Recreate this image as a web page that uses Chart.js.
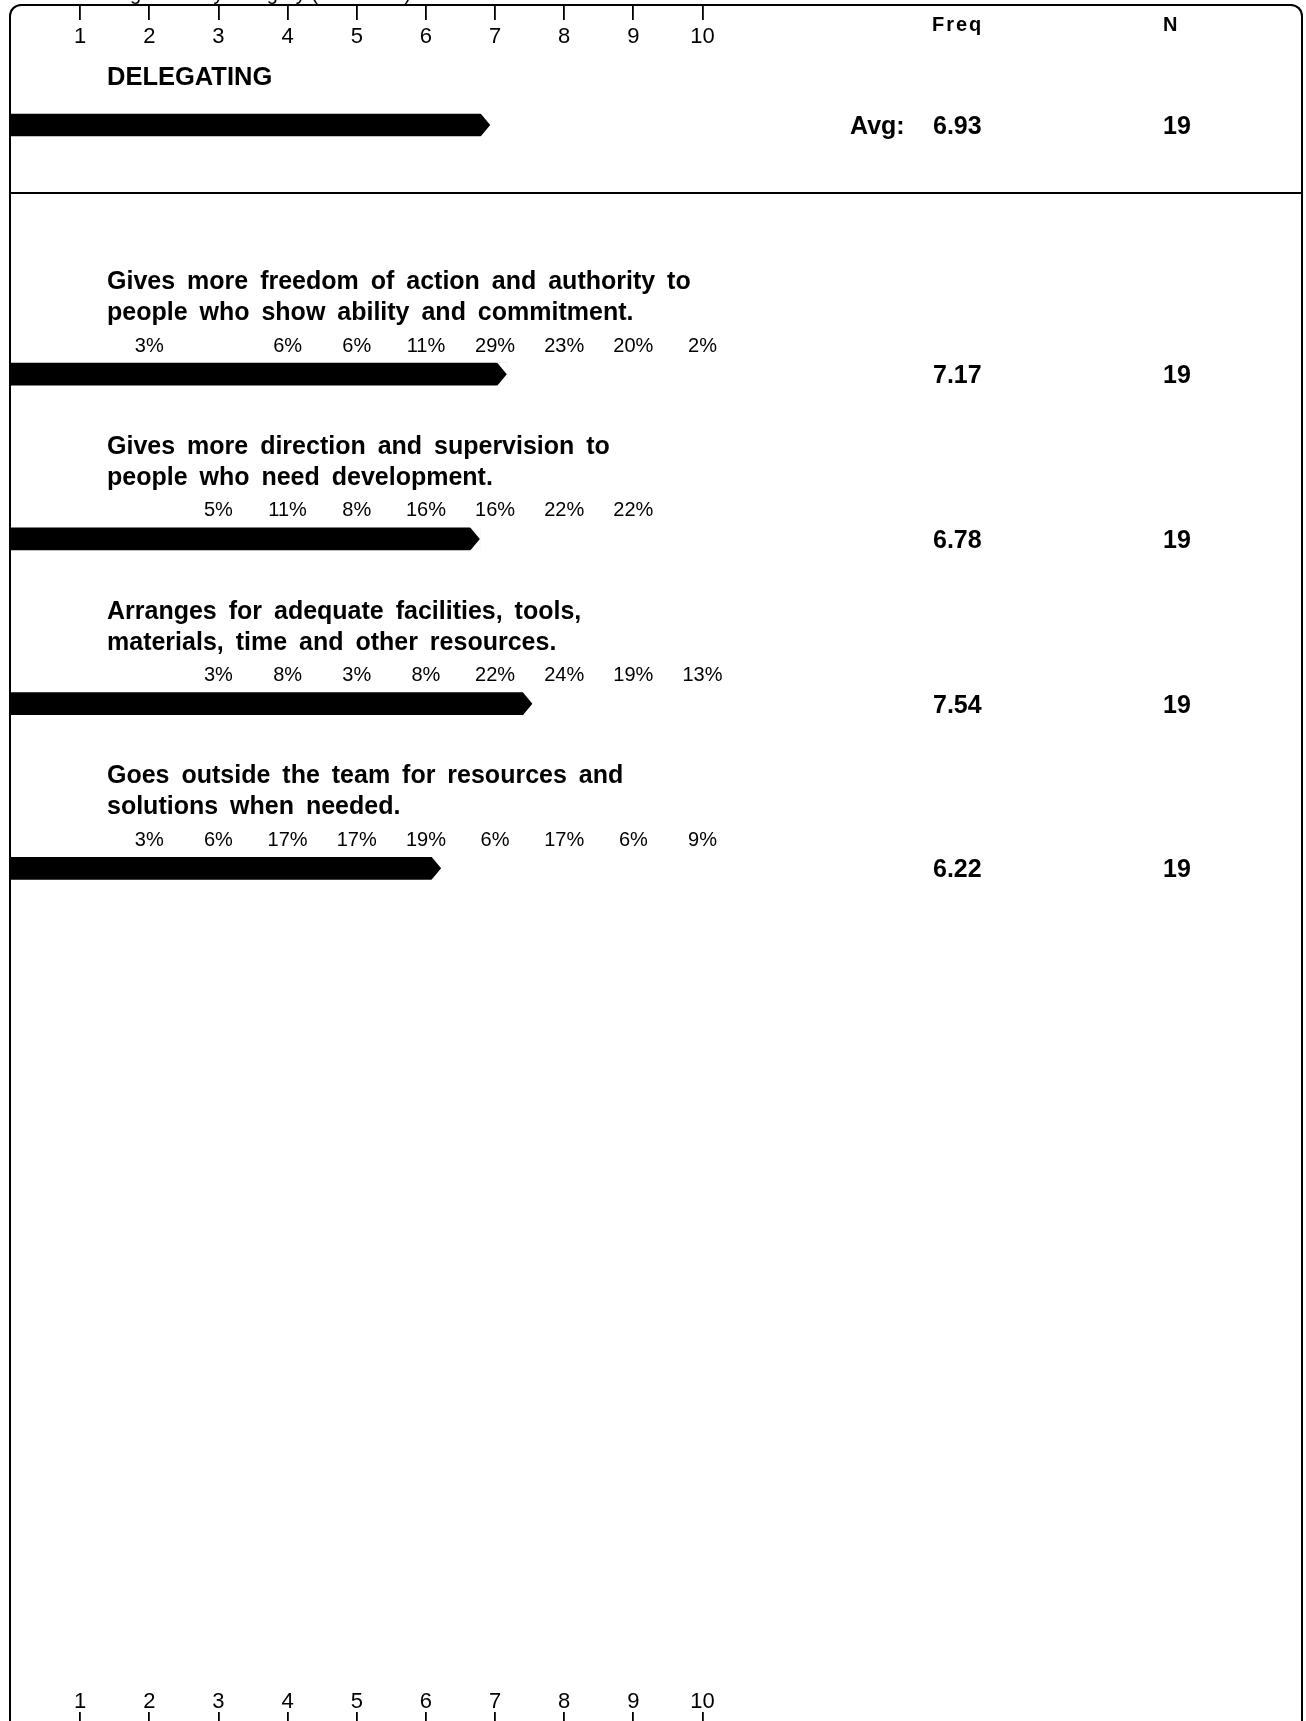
<!DOCTYPE html>
<html>
<head>
<meta charset="utf-8">
<script src="https://cdn.jsdelivr.net/npm/chart.js@4.4.0/dist/chart.umd.min.js"></script>
<style>
  html, body { margin: 0; padding: 0; background: #fff; overflow: hidden; }
  body { width: 1306px; height: 1721px; position: relative; }
  #frame { position: absolute; left: 9px; top: 4px; width: 1290px; height: 1800px;
           border: 2px solid #000; border-bottom: none; border-radius: 12px 12px 0 0; }
  #sep { position: absolute; left: 9px; top: 192px; width: 1294px; border-top: 2px solid #000; }
  canvas { position: absolute; left: 0; }
  #head { top: 0; }
  #items { top: 193px; }
</style>
</head>
<body>
<div id="frame"></div>
<div id="sep"></div>
<canvas id="head" width="1306" height="196"></canvas>
<canvas id="items" width="1306" height="1528"></canvas>
<script>
const FONT = "'Liberation Sans', Arial, sans-serif";

const pageTitle = 'Management by category (All Raters)';
const scoreTicks = [1, 2, 3, 4, 5, 6, 7, 8, 9, 10];

const categoryName = 'DELEGATING';
const categoryAvg = [6.93];
const categoryN = [19];

const itemTitles = [
    ['Gives more freedom of action and authority to', 'people who show ability and commitment.'],
    ['Gives more direction and supervision to', 'people who need development.'],
    ['Arranges for adequate facilities, tools,', 'materials, time and other resources.'],
    ['Goes outside the team for resources and', 'solutions when needed.']
];
const itemAvg = [7.17, 6.78, 7.54, 6.22];
const itemN = [19, 19, 19, 19];
// percent of answers for score 1..10
const itemPct = [
    [null, 3, null, 6, 6, 11, 29, 23, 20, 2],
    [null, null, 5, 11, 8, 16, 16, 22, 22, null],
    [null, null, 3, 8, 3, 8, 22, 24, 19, 13],
    [null, 3, 6, 17, 17, 19, 6, 17, 6, 9]
];

function scoreAxis(position, weight, labels, tickLen, lineHeight) {
    return {
        type: 'linear',
        position: position,
        weight: weight,
        min: 0,
        max: 10,
        afterBuildTicks: s => { s.ticks = scoreTicks.map(v => ({ value: v })); },
        ticks: {
            display: labels,
            color: '#000',
            padding: 0,
            maxRotation: 0,
            autoSkip: false,
            font: { family: FONT, size: 22, lineHeight: lineHeight }
        },
        grid: {
            display: !labels,
            drawOnChartArea: false,
            drawTicks: !labels,
            tickLength: tickLen,
            color: '#000',
            lineWidth: 1.8
        },
        border: { display: false }
    };
}

// cut the bar ends into arrow points
const arrowTips = {
    id: 'arrowTips',
    afterDatasetsDraw(chart) {
        const ctx = chart.ctx;
        chart.getDatasetMeta(0).data.forEach(bar => {
            const top = bar.y - bar.height / 2;
            const bot = bar.y + bar.height / 2;
            const tip = 10;
            ctx.save();
            ctx.globalCompositeOperation = 'destination-out';
            ctx.beginPath();
            ctx.moveTo(bar.x - tip, top - 1);
            ctx.lineTo(bar.x + 1, top - 1);
            ctx.lineTo(bar.x + 1, bar.y);
            ctx.lineTo(bar.x, bar.y);
            ctx.closePath();
            ctx.moveTo(bar.x - tip, bot + 1);
            ctx.lineTo(bar.x + 1, bot + 1);
            ctx.lineTo(bar.x + 1, bar.y);
            ctx.lineTo(bar.x, bar.y);
            ctx.closePath();
            ctx.fill();
            ctx.restore();
        });
    }
};

const headText = {
    id: 'headText',
    afterDraw(chart) {
        const ctx = chart.ctx;
        const bar = chart.getDatasetMeta(0).data[0];
        ctx.save();
        ctx.fillStyle = '#000';
        ctx.textAlign = 'left';
        ctx.textBaseline = 'alphabetic';
        ctx.font = '20px ' + FONT;
        ctx.fillText(pageTitle, 80, 0);

        ctx.font = 'bold 20px ' + FONT;
        ctx.letterSpacing = '2px';
        ctx.fillText('Freq', 932, 31);
        ctx.letterSpacing = '0px';
        ctx.fillText('N', 1163, 31);

        ctx.textBaseline = 'middle';
        ctx.font = 'bold 25.5px ' + FONT;
        ctx.fillText(categoryName, 107, bar.y - 47);
        ctx.font = 'bold 25px ' + FONT;
        ctx.fillText('Avg:', 850, bar.y + 2);
        ctx.fillText(categoryAvg[0].toFixed(2), 933, bar.y + 2);
        ctx.fillText(String(categoryN[0]), 1163, bar.y + 2);
        ctx.restore();
    }
};

const itemText = {
    id: 'itemText',
    afterDraw(chart) {
        const ctx = chart.ctx;
        const xs = chart.scales.x;
        ctx.save();
        ctx.fillStyle = '#000';
        ctx.textBaseline = 'middle';
        chart.getDatasetMeta(0).data.forEach((bar, i) => {
            ctx.textAlign = 'left';
            ctx.font = 'bold 25px ' + FONT;
            ctx.wordSpacing = '5px';
            itemTitles[i].forEach((line, k) => ctx.fillText(line, 107, bar.y - 92 + k * 31));
            ctx.wordSpacing = '0px';

            ctx.textAlign = 'center';
            ctx.font = '20px ' + FONT;
            itemPct[i].forEach((p, k) => {
                if (p !== null) ctx.fillText(p + '%', xs.getPixelForValue(scoreTicks[k]), bar.y - 28);
            });

            ctx.textAlign = 'left';
            ctx.font = 'bold 25px ' + FONT;
            ctx.fillText(itemAvg[i].toFixed(2), 933, bar.y + 2);
            ctx.fillText(String(itemN[i]), 1163, bar.y + 2);
        });
        ctx.restore();
    }
};

const common = {
    responsive: false,
    animation: false,
    events: [],
    indexAxis: 'y',
    plugins: { legend: { display: false }, tooltip: { enabled: false } }
};

new Chart(document.getElementById('head'), {
    type: 'bar',
    data: {
        labels: [categoryName],
        datasets: [{
            data: categoryAvg,
            backgroundColor: '#000',
            borderWidth: 0,
            barThickness: 22
        }]
    },
    options: Object.assign({}, common, {
        layout: { padding: { left: 11, right: 603.5, top: 5, bottom: 0 } },
        scales: {
            y: { type: 'category', display: false },
            xt: scoreAxis('top', 2, false, 15, 1),
            x: scoreAxis('top', 1, true, 0, 34 / 22)
        }
    }),
    plugins: [arrowTips, headText]
});

new Chart(document.getElementById('items'), {
    type: 'bar',
    data: {
        datasets: [{
            data: itemAvg.map((v, i) => ({ x: v, y: i })),
            backgroundColor: '#000',
            borderWidth: 0,
            barThickness: 22
        }]
    },
    options: Object.assign({}, common, {
        layout: { padding: { left: 11, right: 603.5, top: 0, bottom: 0 } },
        scales: {
            y: { type: 'linear', display: false, reverse: true, offset: false, min: -1.1, max: 8.0 },
            x: scoreAxis('bottom', 1, true, 0, 20 / 22),
            xb: scoreAxis('bottom', 2, false, 9, 1)
        }
    }),
    plugins: [arrowTips, itemText]
});
</script>
</body>
</html>
